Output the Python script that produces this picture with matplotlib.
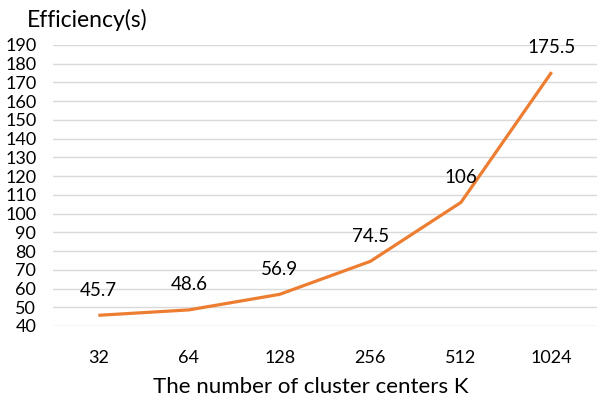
import matplotlib
matplotlib.use('Agg')
import matplotlib.pyplot as plt
import numpy as np

plt.rcParams['font.family'] = ['Lato', 'DejaVu Sans']

# 数据
categories = ['32', '64', '128', '256', '512', '1024']
times = [45.7, 48.6, 56.9, 74.5, 106, 175.5]
labels = ['45.7', '48.6', '56.9', '74.5', '106', '175.5']
yticks = list(range(40, 200, 10))


def main():
    fig = plt.figure(figsize=(6.02, 4.05), dpi=100)
    ax = fig.add_axes([53 / 602, 1 - 326 / 405, 544 / 602, 281 / 405])
    x = np.arange(len(categories))
    ax.plot(x, times, color='#ED7D31', linewidth=2.3, solid_capstyle='butt')
    for xi, v, s in zip(x, times, labels):
        ax.annotate(s, xy=(xi, v), xytext=(0, 18), textcoords='offset points',
                    ha='center', va='center', fontsize=13.5, color='black')
    ax.set_xlim(-0.5, len(categories) - 0.5)
    ax.set_ylim(40, 190)
    ax.set_yticks(yticks)
    ax.set_xticks(x)
    ax.set_xticklabels(categories)
    ax.tick_params(axis='both', length=0, labelsize=13, colors='black')
    ax.tick_params(axis='x', pad=17)
    ax.tick_params(axis='y', pad=12)
    ax.grid(axis='y', color='#D9D9D9', linewidth=1)
    ax.set_axisbelow(True)
    for sp in ax.spines.values():
        sp.set_visible(False)
    ax.set_xlabel('The number of cluster centers K', fontsize=16)
    # 轴标题位置（Excel 的标题略偏左）
    ax.xaxis.set_label_coords(0.474, -0.18)
    fig.text(27 / 602, 1 - 20 / 405, 'Efficiency(s)', fontsize=16.5,
             ha='left', va='center')
    fig.savefig('out.png', dpi=100)


if __name__ == '__main__':
    main()
